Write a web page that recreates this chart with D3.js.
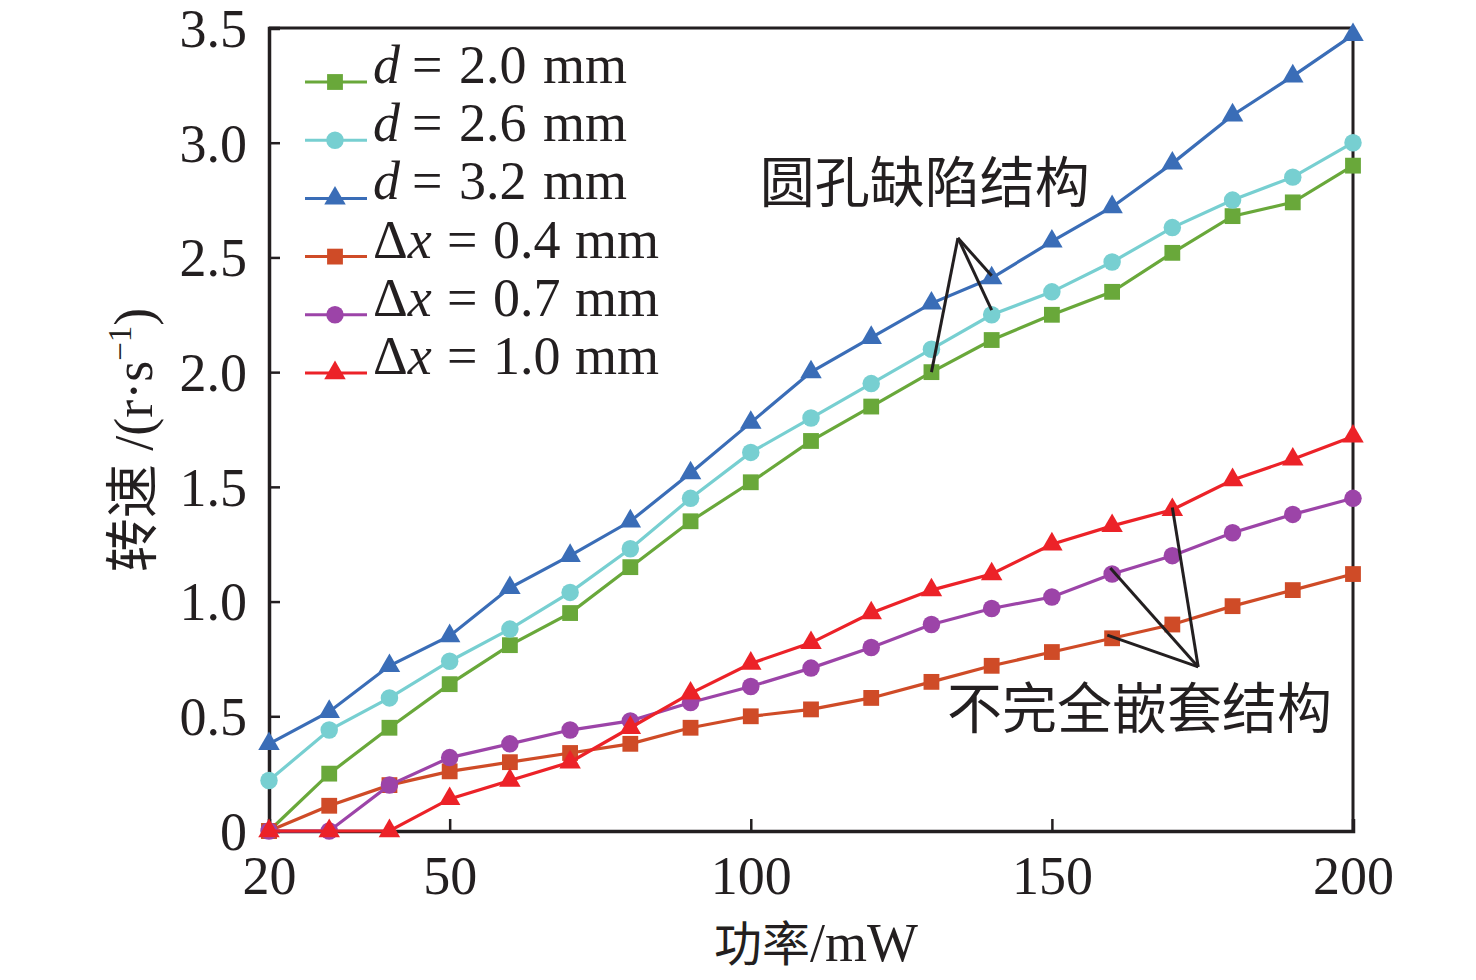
<!DOCTYPE html>
<html>
<head>
<meta charset="utf-8">
<script src="https://cdn.jsdelivr.net/npm/d3@7"></script>
<style>
  body { margin: 0; background: #fff; }
  svg text { fill: #231f20; }
</style>
</head>
<body>
<svg id="chart" width="1476" height="980"></svg>
<script>
// power (mW)
var power = [20, 30, 40, 50, 60, 70, 80, 90, 100, 110, 120, 130, 140, 150, 160, 170, 180, 190, 200];

// rotation speed (r/s) per structure
var d20 = [0, 0.25, 0.45, 0.64, 0.81, 0.95, 1.15, 1.35, 1.52, 1.70, 1.85, 2.00, 2.14, 2.25, 2.35, 2.52, 2.68, 2.74, 2.90];
var d26 = [0.22, 0.44, 0.58, 0.74, 0.88, 1.04, 1.23, 1.45, 1.65, 1.80, 1.95, 2.10, 2.25, 2.35, 2.48, 2.63, 2.75, 2.85, 3.00];
var d32 = [0.38, 0.52, 0.72, 0.85, 1.06, 1.20, 1.35, 1.56, 1.78, 2.00, 2.15, 2.30, 2.41, 2.57, 2.72, 2.91, 3.12, 3.29, 3.47];
var dx04 = [0, 0.11, 0.20, 0.26, 0.30, 0.34, 0.38, 0.45, 0.50, 0.53, 0.58, 0.65, 0.72, 0.78, 0.84, 0.90, 0.98, 1.05, 1.12];
var dx07 = [0, 0, 0.20, 0.32, 0.38, 0.44, 0.48, 0.56, 0.63, 0.71, 0.80, 0.90, 0.97, 1.02, 1.12, 1.20, 1.30, 1.38, 1.45];
var dx10 = [0, 0, 0, 0.14, 0.22, 0.30, 0.45, 0.60, 0.73, 0.82, 0.95, 1.05, 1.12, 1.25, 1.33, 1.40, 1.53, 1.62, 1.72];

var xTicks = [20, 50, 100, 150, 200];
var yTicks = [0, 0.5, 1.0, 1.5, 2.0, 2.5, 3.0, 3.5];

// legend: [variable, value]
var seriesNames = [["d", "2.0"], ["d", "2.6"], ["d", "3.2"], ["Δx", "0.4"], ["Δx", "0.7"], ["Δx", "1.0"]];
var seriesValues = [d20, d26, d32, dx04, dx07, dx10];
var seriesColors = ["#69a83a", "#77cfd1", "#3a6db7", "#cf4b27", "#9c44a8", "#ec2228"];
var seriesShapes = ["square", "circle", "triangle", "square", "circle", "triangle"];

// annotation callouts in data units
var noteTop = { text: "圆孔缺陷结构", pos: [101.5, 2.74], apex: [134.4, 2.585],
                ends: [[130, 2.0], [140, 2.27], [140, 2.42]] };
var noteBottom = { text: "不完全嵌套结构", pos: [132.6, 0.45], apex: [174.3, 0.715],
                   ends: [[159.2, 0.854], [159.7, 1.146], [170, 1.41]] };

var svg = d3.select("#chart");
var margin = { left: 269, top: 28, right: 123, bottom: 149 };
var width = 1476 - margin.left - margin.right;
var height = 980 - margin.top - margin.bottom;

var serif = "'Liberation Serif', 'Times New Roman', serif";
var cjk = "'Noto Sans CJK SC', sans-serif";
var ink = "#231f20";

var x = d3.scaleLinear().domain([20, 200]).range([0, width]);
var y = d3.scaleLinear().domain([0, 3.5]).range([height, 0]);

var g = svg.append("g").attr("transform", "translate(" + margin.left + "," + margin.top + ")");

// frame (top and right)
g.append("path")
    .attr("d", "M0,0H" + width + "V" + height)
    .attr("fill", "none")
    .attr("stroke", ink)
    .attr("stroke-width", 3);

// axes
var xAxis = d3.axisBottom(x).tickValues(xTicks).tickSize(-12).tickPadding(25).tickFormat(d3.format("d"));
var yAxis = d3.axisLeft(y).tickValues(yTicks).tickSize(-11).tickPadding(22)
    .tickFormat(function (d) { return d === 0 ? "0" : d3.format(".1f")(d); });

var gx = g.append("g").attr("transform", "translate(0," + height + ")").call(xAxis);
var gy = g.append("g").call(yAxis);

[gx, gy].forEach(function (a) {
    a.select(".domain").attr("stroke", ink).attr("stroke-width", 3.5);
    a.selectAll(".tick line").attr("stroke", ink).attr("stroke-width", 2.5);
    a.selectAll(".tick text").attr("font-family", serif).attr("font-size", 54).attr("fill", ink);
});
gx.selectAll(".tick text").attr("dy", "0.71em");
gy.selectAll(".tick text").attr("dy", "0.34em");

// symbols
function symbolFor(shape) {
    if (shape === "square") return d3.symbol().type(d3.symbolSquare).size(250);
    if (shape === "circle") return d3.symbol().type(d3.symbolCircle).size(240);
    return d3.symbol().type(d3.symbolTriangle).size(200);
}

var line = d3.line()
    .x(function (d) { return x(d[0]); })
    .y(function (d) { return y(d[1]); });

seriesValues.forEach(function (vals, i) {
    var pts = power.map(function (p, j) { return [p, vals[j]]; });
    var sg = g.append("g");
    sg.append("path")
        .datum(pts)
        .attr("d", line)
        .attr("fill", "none")
        .attr("stroke", seriesColors[i])
        .attr("stroke-width", 3.2);
    sg.selectAll("path.mark")
        .data(pts)
        .enter()
        .append("path")
        .attr("class", "mark")
        .attr("transform", function (d) { return "translate(" + x(d[0]) + "," + y(d[1]) + ")"; })
        .attr("d", symbolFor(seriesShapes[i]))
        .attr("fill", seriesColors[i]);
});

// callouts
[noteTop, noteBottom].forEach(function (n) {
    n.ends.forEach(function (e) {
        g.append("line")
            .attr("x1", x(n.apex[0])).attr("y1", y(n.apex[1]))
            .attr("x2", x(e[0])).attr("y2", y(e[1]))
            .attr("stroke", ink)
            .attr("stroke-width", 3);
    });
    g.append("text")
        .attr("x", x(n.pos[0]))
        .attr("y", y(n.pos[1]))
        .attr("font-family", cjk)
        .attr("font-size", 55)
        .text(n.text);
});

// legend
var legend = g.append("g").attr("transform", "translate(36,54)");
var rowH = 58.2;
seriesNames.forEach(function (nm, i) {
    var row = legend.append("g").attr("transform", "translate(0," + i * rowH + ")");
    var isD = nm[0] === "d";
    row.append("line")
        .attr("x1", 0).attr("x2", 62)
        .attr("stroke", seriesColors[i])
        .attr("stroke-width", 3);
    row.append("path")
        .attr("transform", "translate(30,0)")
        .attr("d", symbolFor(seriesShapes[i]))
        .attr("fill", seriesColors[i]);
    var t = row.append("text")
        .attr("y", 1)
        .attr("font-family", serif)
        .attr("font-size", 54);
    // math-style spacing: symbol, "=", value, unit
    var cols = isD ? [68, 107, 154, 238] : [68, 142, 188, 270];
    if (isD) {
        t.append("tspan").attr("x", cols[0]).attr("font-style", "italic").text("d");
    } else {
        t.append("tspan").attr("x", cols[0]).text("Δ");
        t.append("tspan").attr("font-style", "italic").text("x");
    }
    t.append("tspan").attr("x", cols[1]).text("=");
    t.append("tspan").attr("x", cols[2]).text(nm[1]);
    t.append("tspan").attr("x", cols[3]).text("mm");
});

// axis titles
var xt = svg.append("text")
    .attr("x", margin.left + width / 2 + 5)
    .attr("y", 961)
    .attr("text-anchor", "middle");
xt.append("tspan").attr("font-family", cjk).attr("font-size", 48).text("功率");
xt.append("tspan").attr("font-family", serif).attr("font-size", 54).text("/mW");

var yt = svg.append("text")
    .attr("transform", "translate(152," + (margin.top + 412) + ") rotate(-90)")
    .attr("text-anchor", "middle")
    .attr("font-size", 54);
yt.append("tspan").attr("font-family", cjk).text("转速");
yt.append("tspan").attr("font-family", serif).attr("xml:space", "preserve").text(" /(r·s");
yt.append("tspan").attr("font-family", serif).attr("font-size", 33).attr("dy", -21).text("−1");
yt.append("tspan").attr("font-family", serif).attr("dy", 21).text(")");
</script>
</body>
</html>
